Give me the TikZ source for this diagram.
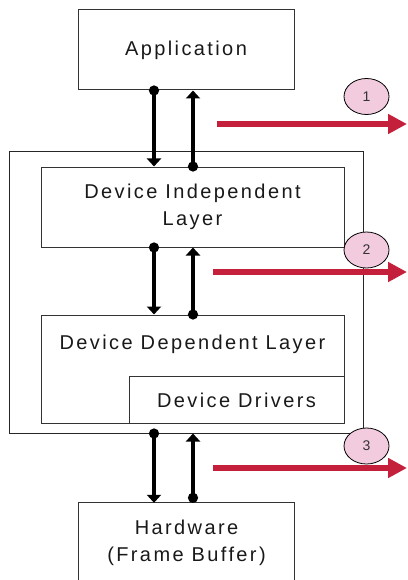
\documentclass[tikz,border=0pt]{standalone}
\usepackage{fontspec}
\setmainfont[LetterSpace=12]{Liberation Sans}
\newfontfamily\numfont{Liberation Sans}
\usetikzlibrary{arrows.meta,calc,shapes.geometric}
\definecolor{redarrow}{HTML}{C4203C}
\definecolor{pinkfill}{HTML}{F2CBDF}
\definecolor{boxline}{HTML}{333333}
\tikzset{
  box/.style={draw=boxline,line width=1pt,rectangle,inner sep=0pt},
  lbl/.style={font=\fontsize{20}{27}\selectfont,text=black!90,align=center},
  conn/.style={line width=3.2pt,black},
  down/.style={conn,{Circle[length=10pt,width=10pt]}-{Triangle[length=8pt,width=14pt]},shorten <=-5pt},
  up/.style={conn,{Triangle[length=8pt,width=14pt]}-{Circle[length=10pt,width=10pt]},shorten >=-5pt},
  redarr/.style={draw=redarrow,line width=5.5pt,-{Triangle[length=19pt,width=19pt]}},
  num/.style={ellipse,draw=black,line width=0.8pt,fill=pinkfill,minimum width=45pt,minimum height=36pt,inner sep=0pt,font=\numfont\fontsize{14}{14}\selectfont,text=black!80}
}
\begin{document}
\begin{tikzpicture}[x=1pt,y=-1pt]
\useasboundingbox (0,0) rectangle (407,580);
% boxes
\node[box,minimum width=216pt,minimum height=80pt] (app) at (186,50) {};
\node[lbl] (applbl) at (186,50) {Application};
\node[box,draw=black!85,minimum width=354pt,minimum height=281pt] (outer) at (186,292.5) {};
\node[box,minimum width=303pt,minimum height=80pt] (dil) at (192.5,207) {};
\node[lbl] (dillbl) at (192.5,207) {Device Independent\\Layer};
\node[box,minimum width=303pt,minimum height=108pt] (ddl) at (192.5,369) {};
\node[lbl] (ddllbl) at (192.5,344) {Device Dependent Layer};
\node[box,minimum width=215pt,minimum height=47pt] (dd) at (236.5,399.5) {};
\node[lbl] (ddlbl) at (236.5,400) {Device Drivers};
\node[rectangle,minimum width=215pt,minimum height=77pt,inner sep=0pt] (hw) at (186.5,541.5) {};
\draw[boxline,line width=1pt] (hw.south west) -- (hw.north west) -- (hw.north east) -- (hw.south east);
\node[lbl] (hwlbl) at (186.5,543) {Hardware\\(Frame Buffer)};
% columns
\coordinate (xl) at (154,0);
\coordinate (xr) at (193,0);
% black connectors
\draw[down] (xl |- app.south) -- (xl |- dil.north);
\draw[up] (xr |- app.south) -- (xr |- dil.north);
\draw[down] (xl |- dil.south) -- (xl |- ddl.north);
\draw[up] (xr |- dil.south) -- (xr |- ddl.north);
\draw[down] (xl |- outer.south) -- (xl |- hw.north);
\draw[up] (xr |- outer.south) -- ($(xr |- hw.north)+(0,-5)$);
% red arrows
\coordinate (r1s) at (217,124);
\coordinate (r1e) at (407,124);
\coordinate (r2s) at (213,272);
\coordinate (r2e) at (407,272);
\coordinate (r3s) at (213,468);
\coordinate (r3e) at (407,468);
\draw[redarr] (r1s) -- (r1e);
\draw[redarr] (r2s) -- (r2e);
\draw[redarr] (r3s) -- (r3e);
% numbered ellipses
\node[num] (n1) at (366.5,96.5) {1};
\node[num] (n2) at (366.5,250) {2};
\node[num] (n3) at (366.5,446) {3};
\end{tikzpicture}
\end{document}
